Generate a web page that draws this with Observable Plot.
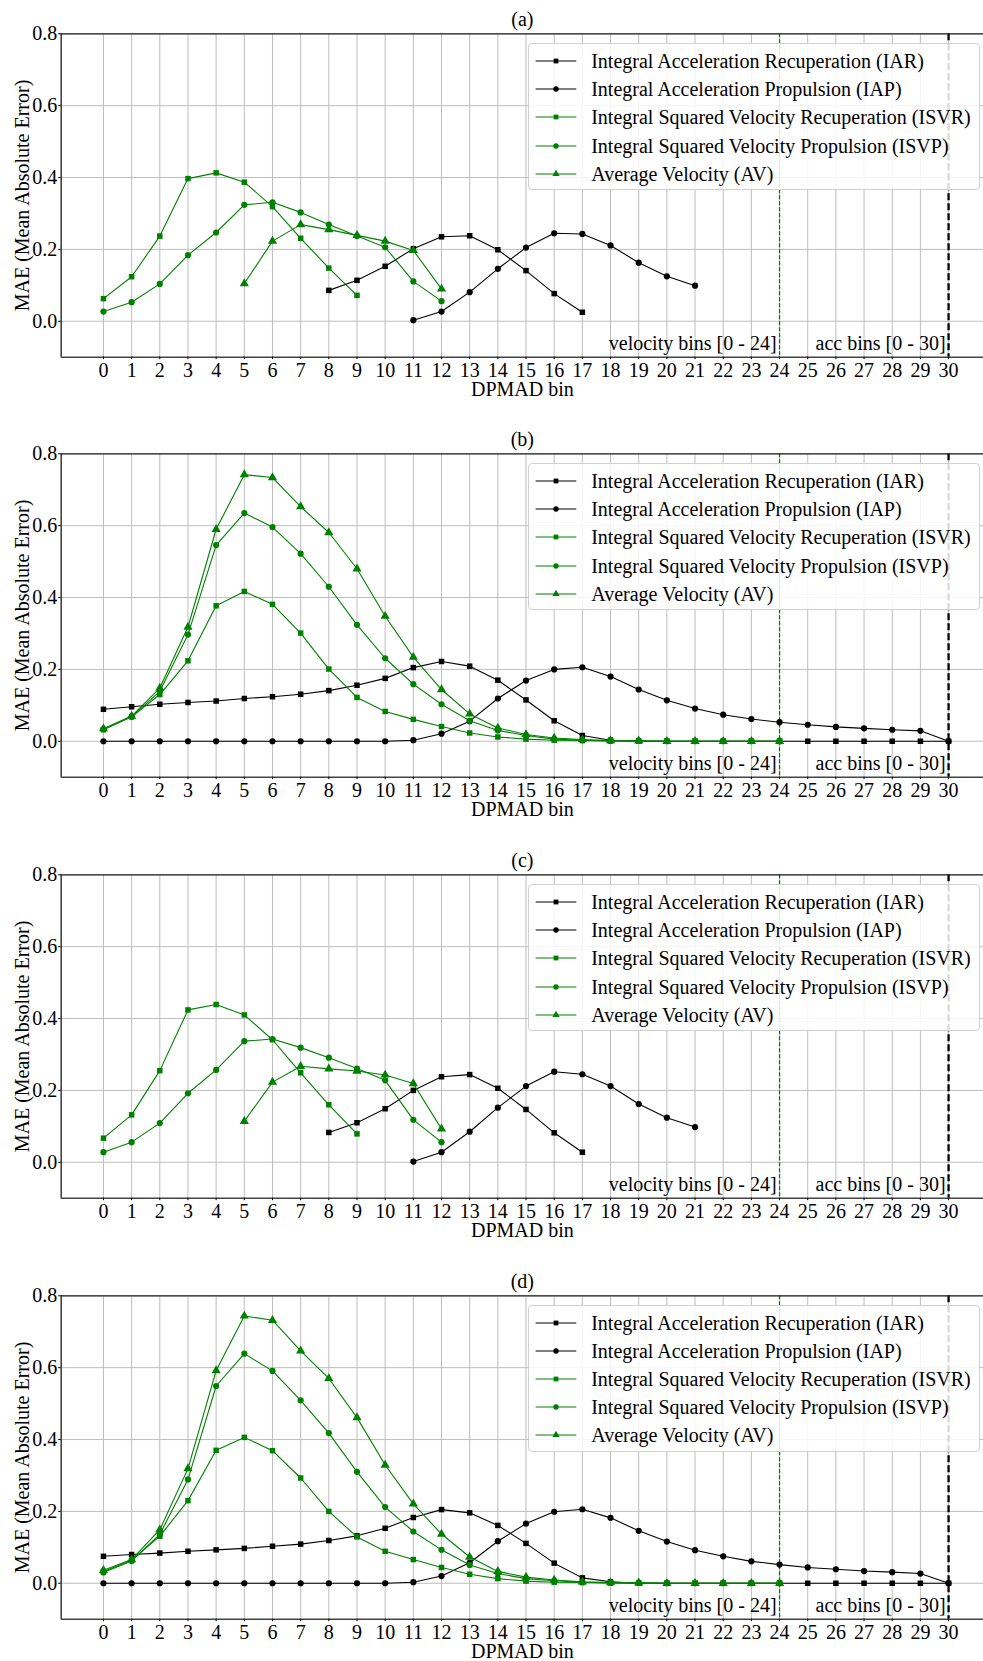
<!DOCTYPE html>
<html>
<head>
<meta charset="utf-8">
<script src="https://cdn.jsdelivr.net/npm/d3@7"></script>
<script src="https://cdn.jsdelivr.net/npm/@observablehq/plot@0.6"></script>
<style>
  html, body { margin: 0; padding: 0; background: #fff; }
  #root { position: relative; width: 983px; height: 1661px; overflow: hidden; font-family: "Liberation Serif", "Times New Roman", serif; }
  .panel { position: absolute; left: 0; width: 983px; height: 420px; }
  .panel svg { display: block; }
  .legend { position: absolute; left: 527.7px; top: 43.3px; width: 452px; height: 147px;
            background: rgba(255,255,255,0.85); border: 1px solid #d0d0d0; border-radius: 4px; box-sizing: border-box; }
  .legend .row { position: absolute; left: 0; height: 28px; width: 100%; }
  .legend .row svg { position: absolute; left: 0; top: 0; }
  .legend .row span { position: absolute; left: 62.5px; top: 0; line-height: 28px; font-size: 20px; color: #000; white-space: nowrap; }
</style>
</head>
<body>
<div id="root"></div>
<script>
// ---------- axis / tick data ----------
const xBins = [0,1,2,3,4,5,6,7,8,9,10,11,12,13,14,15,16,17,18,19,20,21,22,23,24,25,26,27,28,29,30];
const yTicks = [0, 0.2, 0.4, 0.6, 0.8];
const panelTitles = ["(a)", "(b)", "(c)", "(d)"];

// ---------- series meta ----------
const seriesNames = [
  "Integral Acceleration Recuperation (IAR)",
  "Integral Acceleration Propulsion (IAP)",
  "Integral Squared Velocity Recuperation (ISVR)",
  "Integral Squared Velocity Propulsion (ISVP)",
  "Average Velocity (AV)"
];
const seriesColors = ["#000000", "#000000", "#008000", "#008000", "#008000"];
const seriesSymbols = ["square", "circle", "square", "circle", "triangle"];

// ---------- panel (a) ----------
const aStart = [8, 11, 0, 0, 5];
const aIAR  = [0.086, 0.114, 0.153, 0.202, 0.235, 0.238, 0.199, 0.141, 0.077, 0.025];
const aIAP  = [0.003, 0.027, 0.081, 0.146, 0.205, 0.245, 0.243, 0.211, 0.163, 0.125, 0.099];
const aISVR = [0.063, 0.124, 0.237, 0.397, 0.413, 0.387, 0.319, 0.231, 0.148, 0.072];
const aISVP = [0.027, 0.053, 0.104, 0.184, 0.247, 0.324, 0.331, 0.303, 0.269, 0.237, 0.206, 0.111, 0.056];
const aAV   = [0.105, 0.223, 0.269, 0.255, 0.239, 0.223, 0.197, 0.090];

// ---------- panel (b) ----------
const bStart = [0, 0, 0, 0, 0];
const bIAR  = [0.089, 0.096, 0.103, 0.108, 0.112, 0.119, 0.124, 0.131, 0.141, 0.156, 0.175, 0.205, 0.222, 0.209, 0.170, 0.115, 0.057, 0.016, 0.003, 0, 0, 0, 0, 0, 0, 0, 0, 0, 0, 0, 0];
const bIAP  = [0, 0, 0, 0, 0, 0, 0, 0, 0, 0, 0, 0.003, 0.021, 0.056, 0.119, 0.169, 0.200, 0.206, 0.180, 0.144, 0.114, 0.091, 0.074, 0.062, 0.053, 0.046, 0.040, 0.036, 0.032, 0.029, 0];
const bISVR = [0.032, 0.068, 0.130, 0.224, 0.377, 0.417, 0.381, 0.301, 0.201, 0.122, 0.083, 0.061, 0.041, 0.023, 0.012, 0.006, 0.003, 0.002, 0.001, 0, 0, 0, 0, 0, 0];
const bISVP = [0.034, 0.068, 0.139, 0.297, 0.546, 0.635, 0.596, 0.522, 0.430, 0.324, 0.231, 0.159, 0.103, 0.057, 0.030, 0.016, 0.006, 0.003, 0.001, 0.001, 0, 0, 0, 0, 0];
const bAV   = [0.035, 0.070, 0.148, 0.318, 0.590, 0.742, 0.734, 0.653, 0.581, 0.480, 0.348, 0.234, 0.144, 0.076, 0.037, 0.019, 0.009, 0.005, 0.002, 0.001, 0, 0, 0, 0, 0];

// ---------- panel (c) ----------
const cStart = [8, 11, 0, 0, 5];
const cIAR  = [0.083, 0.110, 0.149, 0.200, 0.238, 0.244, 0.206, 0.147, 0.082, 0.028];
const cIAP  = [0.002, 0.028, 0.085, 0.152, 0.212, 0.252, 0.245, 0.212, 0.162, 0.124, 0.098];
const cISVR = [0.067, 0.132, 0.255, 0.424, 0.439, 0.410, 0.341, 0.249, 0.160, 0.079];
const cISVP = [0.028, 0.056, 0.109, 0.192, 0.257, 0.337, 0.343, 0.319, 0.291, 0.261, 0.228, 0.118, 0.056];
const cAV   = [0.114, 0.223, 0.267, 0.260, 0.254, 0.243, 0.219, 0.093];

// ---------- panel (d) ----------
const dStart = [0, 0, 0, 0, 0];
const dIAR  = [0.075, 0.080, 0.084, 0.089, 0.093, 0.097, 0.103, 0.109, 0.119, 0.132, 0.153, 0.183, 0.205, 0.196, 0.161, 0.111, 0.056, 0.015, 0.004, 0, 0, 0, 0, 0, 0, 0, 0, 0, 0, 0, 0];
const dIAP  = [0, 0, 0, 0, 0, 0, 0, 0, 0, 0, 0, 0.003, 0.020, 0.057, 0.117, 0.166, 0.199, 0.206, 0.182, 0.146, 0.116, 0.092, 0.075, 0.061, 0.052, 0.044, 0.039, 0.034, 0.031, 0.027, 0];
const dISVR = [0.033, 0.064, 0.131, 0.230, 0.370, 0.406, 0.369, 0.293, 0.200, 0.129, 0.089, 0.066, 0.044, 0.025, 0.013, 0.006, 0.003, 0.002, 0.001, 0, 0, 0, 0, 0, 0];
const dISVP = [0.030, 0.062, 0.136, 0.289, 0.549, 0.639, 0.591, 0.509, 0.418, 0.310, 0.212, 0.144, 0.093, 0.051, 0.027, 0.013, 0.007, 0.003, 0.001, 0.001, 0, 0, 0, 0, 0];
const dAV   = [0.036, 0.066, 0.149, 0.319, 0.592, 0.744, 0.732, 0.647, 0.570, 0.461, 0.329, 0.221, 0.137, 0.073, 0.033, 0.017, 0.009, 0.004, 0.002, 0.001, 0, 0, 0, 0, 0];

// ---------- annotations ----------
const binLimits = [24, 30];
const binLimitLabels = ["velocity bins [0 - 24]", "acc bins [0 - 30]"];
const binLimitColors = ["#008000", "#000000"];
const annotY = -0.08;

const panels = [
  {title: panelTitles[0], start: aStart, values: [aIAR, aIAP, aISVR, aISVP, aAV]},
  {title: panelTitles[1], start: bStart, values: [bIAR, bIAP, bISVR, bISVP, bAV]},
  {title: panelTitles[2], start: cStart, values: [cIAR, cIAP, cISVR, cISVP, cAV]},
  {title: panelTitles[3], start: dStart, values: [dIAR, dIAP, dISVR, dISVP, dAV]}
];
const panelTops = [0, 420, 841, 1261.7];

const FONT = "Liberation Serif, Times New Roman, serif";
const root = document.getElementById("root");

panels.forEach((p, pi) => {
  const marks = [
    Plot.gridX(xBins, {stroke: "#bdbdbd", strokeOpacity: 1, strokeWidth: 1}),
    Plot.gridY(yTicks, {stroke: "#bdbdbd", strokeOpacity: 1, strokeWidth: 1}),
    Plot.ruleX([binLimits[0]], {stroke: binLimitColors[0], strokeWidth: 1.3, strokeDasharray: "4,2"}),
    Plot.ruleX([binLimits[1]], {stroke: binLimitColors[1], strokeWidth: 2.3, strokeDasharray: "7,3"}),
  ];
  p.values.forEach((vals, si) => {
    const data = vals.map((v, i) => ({bin: p.start[si] + i, mae: v}));
    marks.push(Plot.line(data, {x: "bin", y: "mae", stroke: seriesColors[si], strokeWidth: 1.1}));
    marks.push(Plot.dot(data, {x: "bin", y: "mae", fill: seriesColors[si], stroke: "none",
      symbol: seriesSymbols[si], r: seriesSymbols[si] === "triangle" ? 3.4 : 3.1}));
  });
  const ann = binLimits.map((x, i) => ({x, y: annotY, label: binLimitLabels[i]}));
  marks.push(
    Plot.text(ann, {x: "x", y: "y", text: "label", textAnchor: "end", lineAnchor: "bottom", dx: -3, fontSize: 20, fill: "#000"}),
    // spines
    Plot.ruleX([-1.5], {stroke: "#444", strokeWidth: 1.6}),
    Plot.ruleY([-0.1], {stroke: "#444", strokeWidth: 1.6}),
    Plot.ruleY([0.8], {stroke: "#222", strokeWidth: 1.2}),
    Plot.axisX(xBins, {tickSize: 2.5, tickPadding: 3, fontSize: 20, tickFormat: d => String(d), label: null, stroke: "#000"}),
    Plot.axisY(yTicks, {tickSize: 2.5, tickPadding: 1.5, fontSize: 20, tickFormat: d3.format(".1f"), label: null, stroke: "#000"}),
    Plot.text([p.title], {frameAnchor: "top", lineAnchor: "middle", textAnchor: "middle", dy: -14.5, fontSize: 20, fill: "#000"}),
    Plot.text(["DPMAD bin"], {frameAnchor: "bottom", textAnchor: "middle", dy: 38.5, lineAnchor: "bottom", fontSize: 20, fill: "#000"}),
    Plot.text(["MAE (Mean Absolute Error)"], {frameAnchor: "left", textAnchor: "middle", lineAnchor: "middle", rotate: -90, dx: -38.5, fontSize: 20, fill: "#000"})
  );

  const chart = Plot.plot({
    width: 983,
    height: 420,
    marginLeft: 60.7,
    marginRight: 0,
    marginTop: 33.3,
    marginBottom: 63.3,
    x: {domain: [-1.5, 31.24], label: null},
    y: {domain: [-0.1, 0.8], label: null},
    style: {fontFamily: FONT, fontSize: "20px", background: "white", color: "#000", overflow: "visible"},
    marks
  });

  const panel = document.createElement("div");
  panel.className = "panel";
  panel.style.top = panelTops[pi] + "px";
  panel.appendChild(chart);

  // legend
  const legend = document.createElement("div");
  legend.className = "legend";
  seriesNames.forEach((name, si) => {
    const row = document.createElement("div");
    row.className = "row";
    row.style.top = (2.7 + si * 28.2) + "px";
    const sw = d3.create("svg").attr("width", 56).attr("height", 28);
    sw.append("line").attr("x1", 6.6).attr("x2", 47.3).attr("y1", 14).attr("y2", 14)
      .attr("stroke", seriesColors[si]).attr("stroke-width", 1.1);
    const symMap = {square: d3.symbolSquare, circle: d3.symbolCircle, triangle: d3.symbolTriangle};
    const r = 2.7;
    sw.append("path").attr("transform", "translate(27,14)")
      .attr("d", d3.symbol(symMap[seriesSymbols[si]], Math.PI * r * r)())
      .attr("fill", seriesColors[si]);
    row.appendChild(sw.node());
    const span = document.createElement("span");
    span.textContent = name;
    row.appendChild(span);
    legend.appendChild(row);
  });
  panel.appendChild(legend);
  root.appendChild(panel);
});
</script>
</body>
</html>
